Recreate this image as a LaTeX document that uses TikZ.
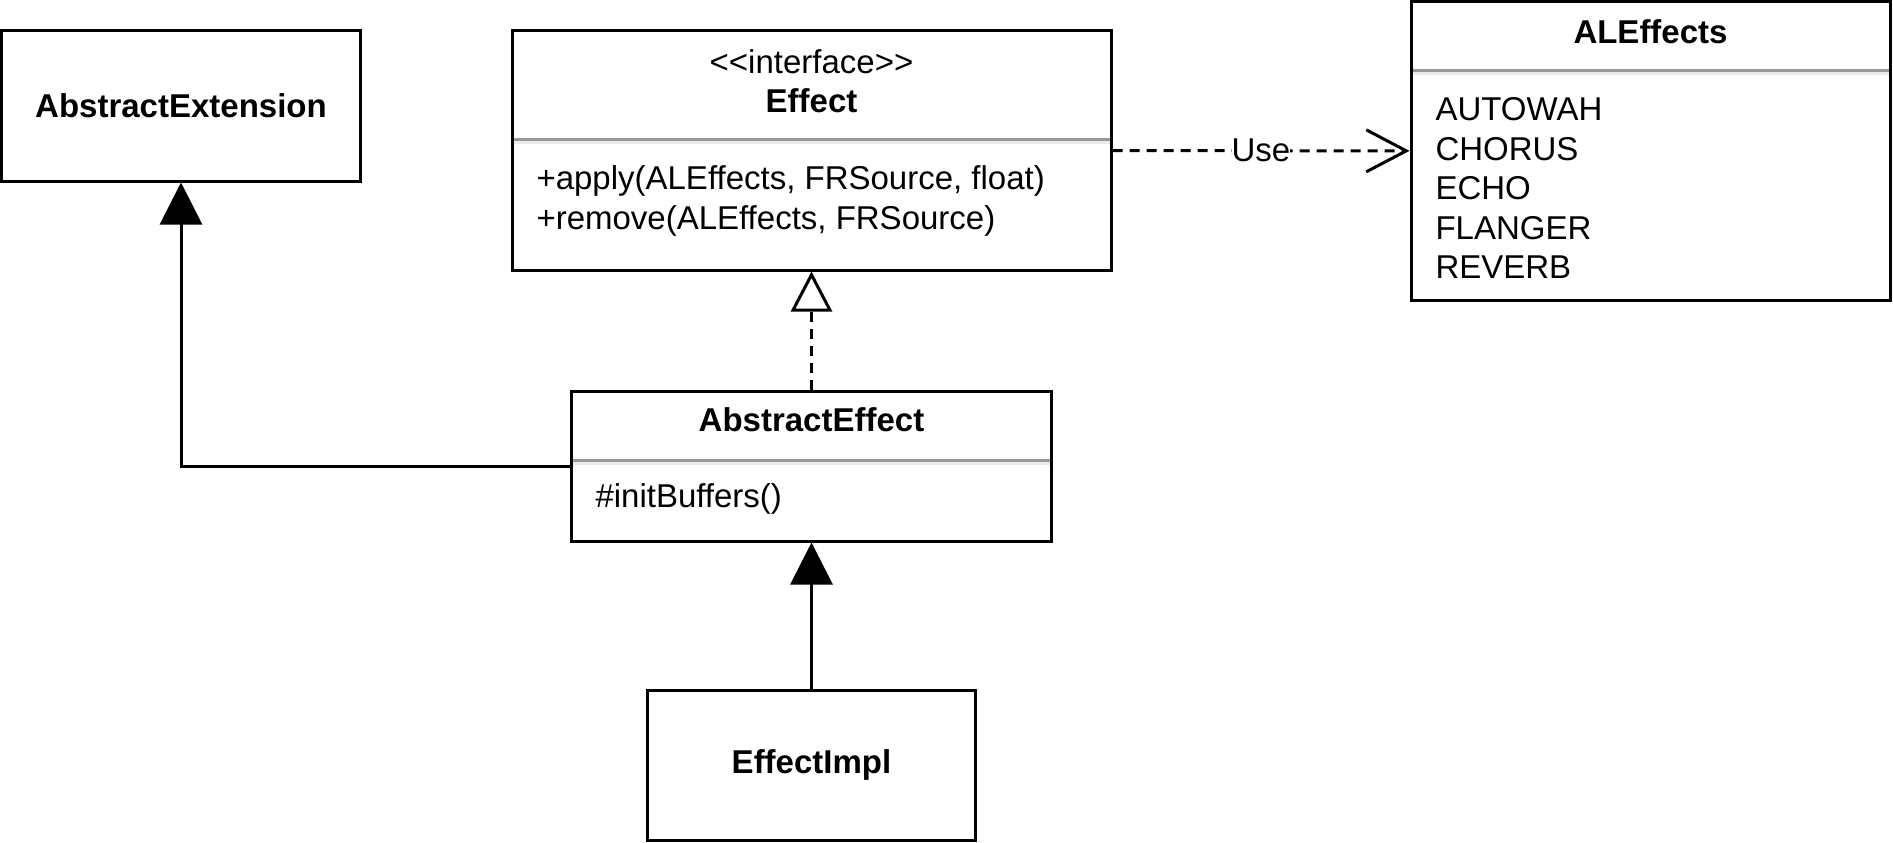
\documentclass[tikz,border=0pt]{standalone}
\usepackage{fontspec}
\setmainfont{Liberation Sans}
\usetikzlibrary{arrows.meta,positioning}
\newcommand{\umlfont}{\fontsize{33}{39.5}\selectfont}

\begin{document}
\begin{tikzpicture}[x=1pt,y=-1pt,line width=3pt,node distance=118pt,
  class node/.style={rectangle,draw,inner sep=0pt},
  label node/.style={font=\umlfont,inner sep=0pt,align=center},
  member node/.style={font=\umlfont,inner sep=0pt,align=left,anchor=west},
  sep line/.style={black!40,line width=3pt,shorten <=3pt,shorten >=3pt},
  sep shade/.style={black!8,line width=3pt,shorten <=3pt,shorten >=3pt}]

  \useasboundingbox (0,0) rectangle (1893,843);

  \node[class node,minimum width=599pt,minimum height=239pt] (effect) at (811.5,150.5) {};
  \node[class node,minimum width=480pt,minimum height=150pt] (abseff) [below=of effect] {};
  \node[class node,minimum width=328pt,minimum height=150pt] (impl) [below=146pt of abseff] {};
  \node[class node,minimum width=359pt,minimum height=150pt] (absext) at (181,106) {};
  \node[class node,minimum width=479pt,minimum height=298pt] (aleff) at (1650.5,151) {};

  % compartments
  \draw[sep shade] (effect.west |- 0,142.5) -- (effect.east |- 0,142.5);
  \draw[sep line] (effect.west |- 0,139) -- (effect.east |- 0,139);
  \draw[sep shade] (abseff.west |- 0,463) -- (abseff.east |- 0,463);
  \draw[sep line] (abseff.west |- 0,460) -- (abseff.east |- 0,460);
  \draw[sep shade] (aleff.west |- 0,73.5) -- (aleff.east |- 0,73.5);
  \draw[sep line] (aleff.west |- 0,70.5) -- (aleff.east |- 0,70.5);

  \node[label node] (absext name) at (absext) {\textbf{AbstractExtension}};
  \node[label node] (effect name) at (811.5,81) {<{}<interface>{}>\\\textbf{Effect}};
  \node[member node] (effect ops) at (535,201) {+apply(ALEffects, FRSource, float)\\+remove(ALEffects, FRSource)};
  \node[label node] (abseff name) at (811.5,420) {\textbf{AbstractEffect}};
  \node[member node] (abseff ops) at (594,499) {\#initBuffers()};
  \node[label node] (impl name) at (impl) {\textbf{EffectImpl}};
  \node[label node] (aleff name) at (1650.5,32) {\textbf{ALEffects}};
  \node[member node] (aleff items) at (1434,188) {AUTOWAH\\CHORUS\\ECHO\\FLANGER\\REVERB};

\path[every node/.style={font=\umlfont,fill=white,inner sep=0pt}]
	(effect) edge[dash pattern=on 10pt off 7pt,-{Straight Barb[length=40pt,width=42pt]}] node {Use} (aleff)
	(abseff) edge[dash pattern=on 10pt off 7pt,-{Triangle[open,length=40pt,width=41pt]}] (effect)
	(impl) edge[-{Triangle[length=42pt,width=42pt]}] (abseff)
	(abseff) edge[-{Triangle[length=42pt,width=42pt]},to path={-| (\tikztotarget)}] (absext);
\end{tikzpicture}
\end{document}
